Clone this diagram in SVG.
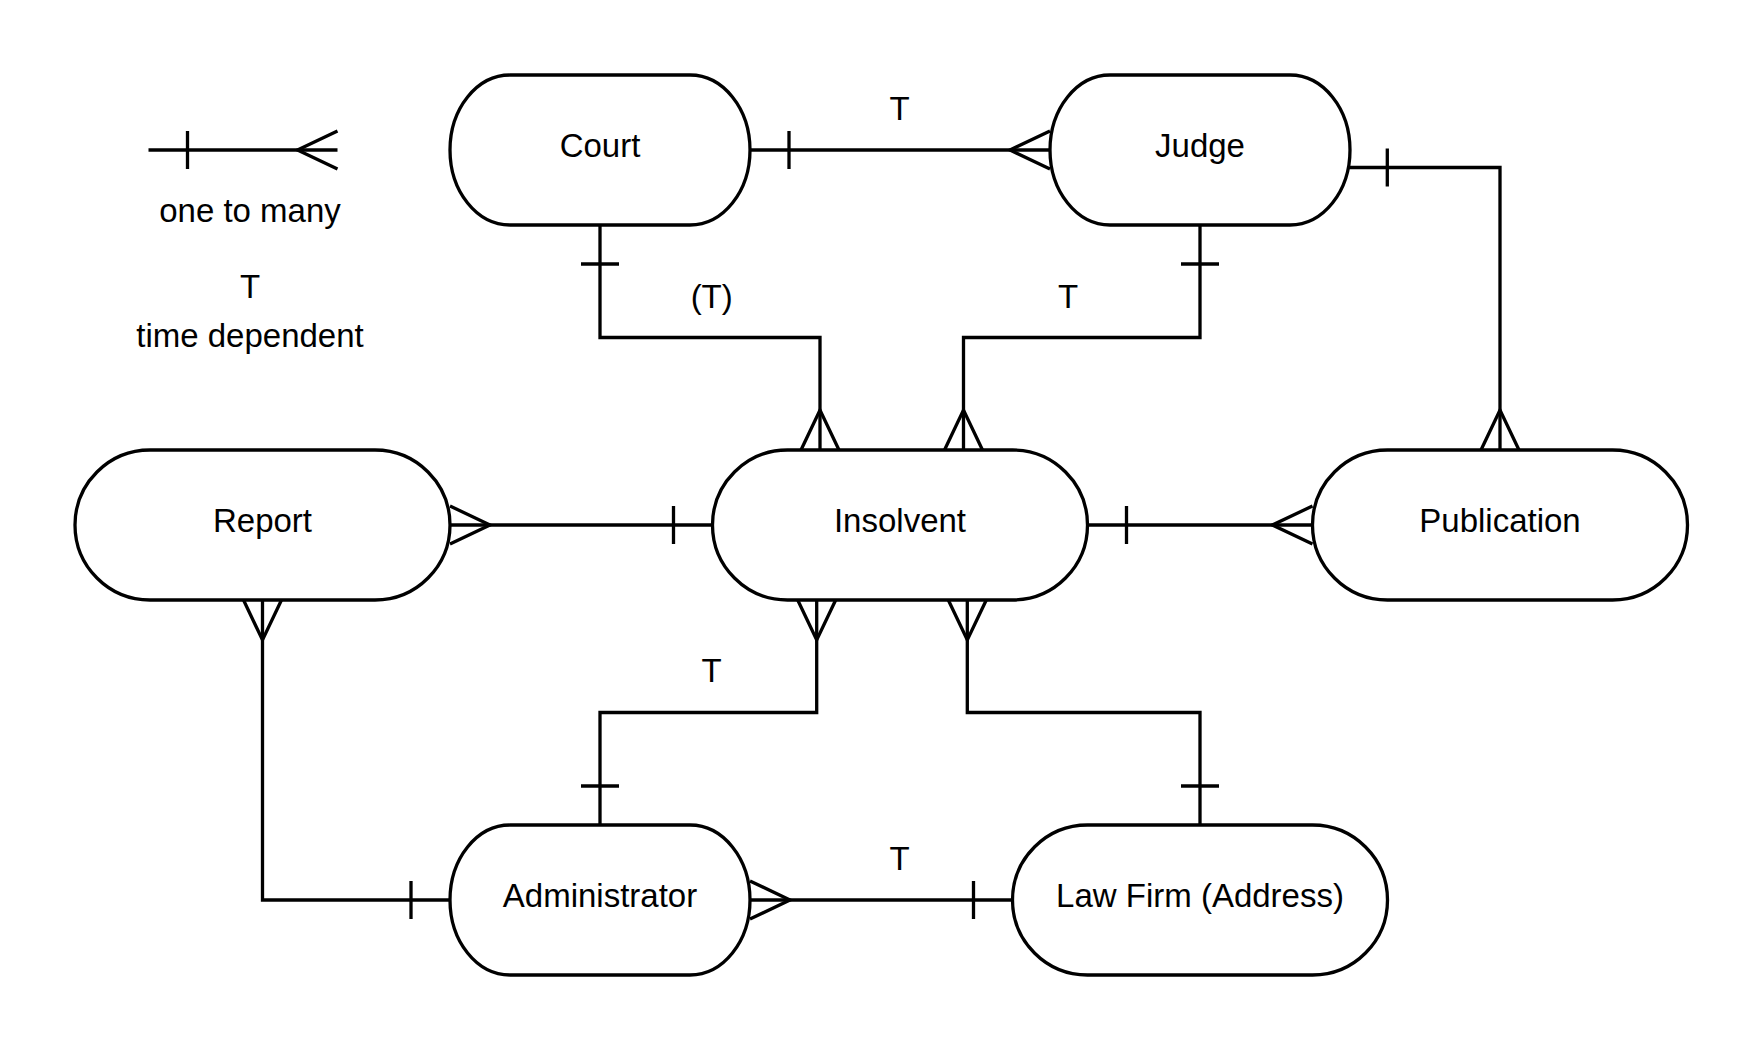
<svg xmlns="http://www.w3.org/2000/svg" width="1763" height="1050" viewBox="0 0 1763 1050">
  <style>
    .node { fill: #ffffff; stroke: #000000; stroke-width: 3.3; }
    .lbl { font-family: "Liberation Sans", Arial, sans-serif; font-size: 33px; fill: #000000; text-anchor: middle; }
    .edge { fill: none; stroke: #000000; stroke-width: 3.3; }
    .mk { fill: none; stroke: #000000; stroke-width: 3.3; }
  </style>
  <defs>
    <marker id="one" markerUnits="userSpaceOnUse" markerWidth="1" markerHeight="1" refX="0" refY="0" orient="auto-start-reverse" overflow="visible">
      <path class="mk" d="M-39,-19 V19"/>
    </marker>
    <marker id="many" markerUnits="userSpaceOnUse" markerWidth="1" markerHeight="1" refX="0" refY="0" orient="auto-start-reverse" overflow="visible">
      <path class="mk" d="M0,-19 L-40,0 L0,19"/>
    </marker>
  </defs>
  <rect x="0" y="0" width="1763" height="1050" fill="#ffffff"/>

  <g id="legend">
    <path class="edge" d="M148.5,150 H337.5" marker-start="url(#one)" marker-end="url(#many)"/>
    <text class="lbl" x="250" y="221.5">one to many</text>
    <text class="lbl" x="250" y="298">T</text>
    <text class="lbl" x="250" y="347">time dependent</text>
  </g>

  <g id="connectors">
    <path class="edge" d="M750,150 H1050" marker-start="url(#one)" marker-end="url(#many)"/>
    <path class="edge" d="M600,225 V337.5 H820 V450" marker-start="url(#one)" marker-end="url(#many)"/>
    <path class="edge" d="M1200,225 V337.5 H963.5 V450" marker-start="url(#one)" marker-end="url(#many)"/>
    <path class="edge" d="M1348.3,167.5 H1500 V450" marker-start="url(#one)" marker-end="url(#many)"/>
    <path class="edge" d="M450,525 H712.5" marker-start="url(#many)" marker-end="url(#one)"/>
    <path class="edge" d="M1087.5,525 H1312.5" marker-start="url(#one)" marker-end="url(#many)"/>
    <path class="edge" d="M262.5,600 V900 H450" marker-start="url(#many)" marker-end="url(#one)"/>
    <path class="edge" d="M816.7,600 V712.5 H600 V825" marker-start="url(#many)" marker-end="url(#one)"/>
    <path class="edge" d="M967.3,600 V712.5 H1200 V825" marker-start="url(#many)" marker-end="url(#one)"/>
    <path class="edge" d="M750,900 H1012.5" marker-start="url(#many)" marker-end="url(#one)"/>
    <text class="lbl" x="899.5" y="119.5">T</text>
    <text class="lbl" x="711.7" y="308">(T)</text>
    <text class="lbl" x="1068" y="308">T</text>
    <text class="lbl" x="711.7" y="681.5">T</text>
    <text class="lbl" x="899.5" y="869.5">T</text>
  </g>

  <g id="court">
    <path class="node" d="M510,75 H690 A60,75 0 0 1 690,225 H510 A60,75 0 0 1 510,75 Z"/>
    <text class="lbl" x="600" y="156.5">Court</text>
  </g>
  <g id="judge">
    <path class="node" d="M1110,75 H1290 A60,75 0 0 1 1290,225 H1110 A60,75 0 0 1 1110,75 Z"/>
    <text class="lbl" x="1200" y="156.5">Judge</text>
  </g>
  <g id="report">
    <path class="node" d="M150,450 H375 A75,75 0 0 1 375,600 H150 A75,75 0 0 1 150,450 Z"/>
    <text class="lbl" x="262.5" y="531.5">Report</text>
  </g>
  <g id="insolvent">
    <path class="node" d="M787.5,450 H1012.5 A75,75 0 0 1 1012.5,600 H787.5 A75,75 0 0 1 787.5,450 Z"/>
    <text class="lbl" x="900" y="531.5">Insolvent</text>
  </g>
  <g id="publication">
    <path class="node" d="M1387.5,450 H1612.5 A75,75 0 0 1 1612.5,600 H1387.5 A75,75 0 0 1 1387.5,450 Z"/>
    <text class="lbl" x="1500" y="531.5">Publication</text>
  </g>
  <g id="administrator">
    <path class="node" d="M510,825 H690 A60,75 0 0 1 690,975 H510 A60,75 0 0 1 510,825 Z"/>
    <text class="lbl" x="600" y="906.5">Administrator</text>
  </g>
  <g id="lawfirm">
    <path class="node" d="M1087.5,825 H1312.5 A75,75 0 0 1 1312.5,975 H1087.5 A75,75 0 0 1 1087.5,825 Z"/>
    <text class="lbl" x="1200" y="906.5">Law Firm (Address)</text>
  </g>
</svg>
